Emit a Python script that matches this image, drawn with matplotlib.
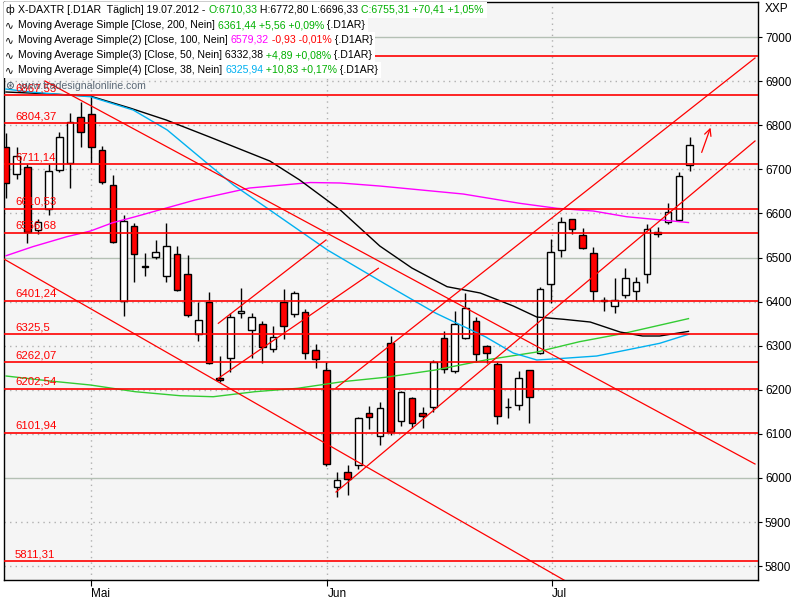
import matplotlib
matplotlib.use("Agg")
import matplotlib.pyplot as plt
from matplotlib.text import Annotation
from matplotlib.patches import Rectangle

# ---------------- data ----------------
opens = [6749.9, 6688.7, 6704.5, 6562.4, 6610.0, 6698.4, 6713.6, 6817.9, 6825.4, 6743.8,
         6663.7, 6401.4, 6570.7, 6480.0, 6500.4, 6458.7, 6507.2, 6462.6, 6326.5, 6399.1,
         6226.0, 6271.4, 6373.5, 6334.9, 6349.2, 6291.8, 6398.4, 6371.2, 6377.1, 6289.6,
         6244.9, 5980.3, 6012.9, 6028.8, 6146.7, 6094.6, 6305.4, 6129.2, 6180.7, 6148.1,
         6161.7, 6316.8, 6242.6, 6318.1, 6356.7, 6299.3, 6257.8, 6161.0, 6164.8, 6244.9,
         6282.8, 6439.2, 6517.0, 6586.6, 6550.3, 6510.9, 6402.0, 6390.0, 6415.0, 6424.0,
         6461.9, 6557.5, 6579.8, 6585.0, 6710.33]
highs = [6781.6, 6751.2, 6712.0, 6586.6, 6712.0, 6783.9, 6827.0, 6853.3, 6868.5, 6752.8,
         6686.4, 6595.7, 6578.9, 6509.5, 6539.7, 6578.9, 6526.1, 6505.7, 6399.8, 6421.1,
         6276.6, 6373.5, 6431.5, 6373.5, 6356.0, 6344.7, 6427.9, 6423.0, 6382.5, 6303.2,
         6263.7, 6014.3, 6029.5, 6137.7, 6163.3, 6172.3, 6322.0, 6197.3, 6183.0, 6161.7,
         6267.6, 6333.3, 6378.7, 6420.2, 6364.4, 6301.6, 6263.7, 6180.7, 6242.6, 6245.5,
         6432.4, 6542.0, 6591.1, 6588.0, 6566.2, 6523.1, 6411.0, 6452.8, 6476.9, 6456.5,
         6575.3, 6569.8, 6624.3, 6694.6, 6772.80]
lows = [6634.2, 6677.3, 6532.2, 6553.3, 6596.4, 6693.2, 6658.3, 6749.9, 6715.0, 6666.0,
        6532.0, 6368.0, 6445.1, 6458.0, 6496.6, 6445.1, 6424.7, 6365.8, 6311.3, 6258.0,
        6218.4, 6241.0, 6362.1, 6271.4, 6260.1, 6286.4, 6315.2, 6364.4, 6269.8, 6248.7,
        6027.2, 5956.2, 5961.4, 6019.7, 6110.4, 6074.1, 6097.5, 6118.6, 6114.0, 6112.7,
        6150.3, 6237.4, 6237.4, 6315.2, 6263.7, 6260.1, 6121.8, 6136.7, 6154.2, 6125.4,
        6282.0, 6396.1, 6500.4, 6552.6, 6518.6, 6402.0, 6379.4, 6373.5, 6407.5, 6402.0,
        6441.5, 6545.8, 6576.0, 6583.4, 6696.33]
closes = [6668.3, 6730.2, 6558.5, 6579.8, 6696.1, 6772.6, 6806.6, 6783.9, 6749.9, 6670.5,
          6534.5, 6583.4, 6507.2, 6478.0, 6511.8, 6526.1, 6426.3, 6369.6, 6358.3, 6260.1,
          6223.0, 6364.4, 6378.7, 6364.4, 6296.4, 6319.0, 6344.7, 6418.8, 6282.8, 6269.2,
          6031.1, 5994.8, 5998.4, 6135.4, 6137.6, 6158.7, 6103.2, 6194.3, 6125.4, 6139.9,
          6263.7, 6246.5, 6349.2, 6384.8, 6281.2, 6282.8, 6140.6, 6160.0, 6226.1, 6183.0,
          6427.9, 6511.8, 6579.8, 6563.9, 6520.8, 6424.7, 6404.3, 6403.6, 6452.8, 6443.8,
          6564.6, 6553.0, 6603.2, 6684.8, 6755.31]

month_labels = ["Mai", "Jun", "Jul"]
month_index = [8, 30.1, 51.1]

# moving averages read at selected bar indices
ma200_idx = [0, 4.1, 7.9, 12.1, 16.3, 19.4, 23.3, 27.3, 31.5, 35.5, 40.2, 44.9, 49.7, 53.7, 57.8, 63.9]
ma200_val = [6231.3, 6220.0, 6210.9, 6195.7, 6186.6, 6184.3, 6195.7, 6203.4, 6218.4, 6228.3,
             6244.9, 6267.6, 6285.7, 6309.1, 6327.7, 6361.4]
ma100_idx = [0, 2.5, 5.7, 7.9, 10, 12.1, 17.7, 22.8, 28.5, 31.3, 35, 42.8, 48.1, 51.6, 55, 58.1, 63.9]
ma100_val = [6504.0, 6524.5, 6547.2, 6560.0, 6579.0, 6592.5, 6630.4, 6657.6, 6670.0, 6669.0,
             6662.1, 6644.0, 6622.9, 6611.5, 6605.4, 6592.5, 6579.3]
ma50_idx = [0, 4.1, 7.9, 11.6, 15, 19, 24.7, 27.5, 31.3, 35, 38, 41.3, 44.4, 47.5, 49.7, 52.2, 54.7, 57.5, 59.6, 61.2, 63.9]
ma50_val = [6875.3, 6871.0, 6866.0, 6839.0, 6811.8, 6773.9, 6718.8, 6675.7, 6607.7, 6526.0,
            6476.2, 6433.8, 6419.5, 6390.0, 6365.0, 6359.9, 6353.7, 6331.0, 6322.0, 6322.0, 6332.4]
ma38_idx = [0, 2, 5.7, 7.9, 11.9, 15.1, 18.8, 21.3, 24.7, 30.1, 35.5, 40.2, 44.9, 47.5, 49.7, 52.2, 55.3, 58.1, 61.2, 63.9]
ma38_val = [6882.0, 6876.0, 6868.5, 6864.6, 6834.5, 6789.1, 6714.3, 6664.4, 6607.7, 6517.0,
            6440.0, 6374.2, 6320.0, 6283.4, 6267.6, 6271.4, 6276.6, 6290.2, 6305.4, 6325.9]

level_values = [6958.0, 6867.53, 6804.37, 6711.14, 6610.53, 6556.68, 6401.24, 6325.5,
                6262.07, 6202.54, 6101.94, 5811.31]
level_labels = ["", "6867,53", "6804,37", "6711,14", "6610,53", "6556,68", "6401,24", "6325,5",
                "6262,07", "6202,54", "6101,94", "5811,31"]

# trend lines: (start index, start price, end index, end price)
trend_lines = [
    (-0.37, 6499.0, 52.5, 5765.0),
    (3.65, 6900.2, 70.13, 6031.7),
    (30.9, 6204.1, 70.13, 6952.4),
    (30.9, 5968.2, 70.13, 6764.2),
    (19.88, 6350.8, 29.96, 6539.7),
    (19.88, 6226.1, 34.86, 6475.5),
]
arrow_pts = (65.05, 6732.4, 66.05, 6800.4)

y_ticks = list(range(5800, 7001, 100))

# ---------------- figure ----------------
plt.rcParams['font.family'] = ['Liberation Sans', 'DejaVu Sans']
fig = plt.figure(figsize=(8, 6), dpi=100)
fig.patch.set_facecolor('white')
ax = fig.add_axes([4/800, 20/600, 754/800, 578/600])
ax.set_facecolor('#f5f5f5')
ax.set_xlim(-0.19, 70.41)
ax.set_ylim(5768.7, 7079.4)

# grid
for v in y_ticks:
    if v % 500 == 0:
        ax.axhline(v, color='#b4c0b4', lw=1.0, zorder=0.5)
    else:
        ax.axhline(v, color='#b0b0b0', lw=1.0, ls=(0, (1, 3)), zorder=0.5)
for m in month_index:
    ax.axvline(m, color='#b0b0b0', lw=1.0, ls=(0, (1, 3)), zorder=0.5)

# candles
n = len(opens)
xs = list(range(n))
ax.vlines(xs, lows, highs, color='black', lw=1.0, zorder=2)
for i in range(n):
    o, c = opens[i], closes[i]
    lo, hi = min(o, c), max(o, c)
    h = max(hi - lo, 1.0)
    fc = 'white' if c > o else '#ff0000'
    ax.bar(i, h, bottom=lo, width=0.62, color=fc, edgecolor='black', linewidth=1.0, zorder=3)

# moving averages
ax.plot(ma200_idx, ma200_val, color='#33cc33', lw=1.0, zorder=4)
ax.plot(ma100_idx, ma100_val, color='#ff00ff', lw=1.0, zorder=4)
ax.plot(ma50_idx, ma50_val, color='black', lw=1.0, zorder=4)
ax.plot(ma38_idx, ma38_val, color='#00b0f0', lw=1.0, zorder=4)

# horizontal levels
for v, lab in zip(level_values, level_labels):
    ax.axhline(v, color='#ff0000', lw=1.2, zorder=5)
    if lab:
        ax.annotate(lab, xy=(11/754, v), xycoords=('axes fraction', 'data'),
                    xytext=(0, 1.5), textcoords='offset points', color='#ff0000',
                    fontsize=8.2, va='bottom', ha='left', zorder=6)

# trend lines
for x0, y0, x1, y1 in trend_lines:
    ax.plot([x0, x1], [y0, y1], color='#ff0000', lw=0.9, zorder=5)
ax.annotate('', xy=(arrow_pts[2], arrow_pts[3]), xytext=(arrow_pts[0], arrow_pts[1]),
            arrowprops=dict(arrowstyle='->', color='#ff0000', lw=0.9, mutation_scale=12), zorder=6)

# axes styling
ax.yaxis.tick_right()
ax.set_yticks(y_ticks)
ax.set_yticklabels([str(v) for v in y_ticks])
ax.tick_params(axis='y', direction='out', length=3, width=0.8, labelsize=8.5, pad=2, colors='black')
ax.set_xticks(month_index)
ax.set_xticklabels(month_labels, ha='left')
ax.tick_params(axis='x', direction='out', length=4, width=0.8, labelsize=8.5, pad=2)
for s in ax.spines.values():
    s.set_color('black')
    s.set_linewidth(1.0)
fig.text(765/800, 1 - 9/600, "XXP", fontsize=8.5, va='center', ha='left')

# header text rows
FS = 7.6
rows_drawn = []
def row(parts, y_px, icon):
    y = 1 - y_px / 600
    fig.text(5/800, y, icon, color='black', fontsize=FS, va='center', ha='left', zorder=11)
    t = fig.text(18/800, y, parts[0][0], color=parts[0][1], fontsize=FS, va='center',
                 ha='left', zorder=11)
    first = t
    for s, c in parts[1:]:
        a = Annotation(s, xy=(1, 0), xycoords=t, color=c, fontsize=FS, va='bottom',
                       ha='left', annotation_clip=False)
        a.set_zorder(11)
        fig.add_artist(a)
        t = a
    rows_drawn.append((first, t, y_px))

G = '#00b000'
row([("X-DAXTR [.D1AR  Täglich] 19.07.2012 - ", 'black'), ("O:6710,33", G),
     (" H:6772,80 L:6696,33 ", 'black'), ("C:6755,31 +70,41 +1,05%", G)], 10, "ф")
row([("Moving Average Simple [Close, 200, Nein] ", 'black'), ("6361,44 +5,56 +0,09%", G),
     (" {.D1AR}", 'black')], 25, "∿")
row([("Moving Average Simple(2) [Close, 100, Nein] ", 'black'), ("6579,32", '#ff00ff'),
     (" -0,93 -0,01%", '#ff0000'), (" {.D1AR}", 'black')], 40, "∿")
row([("Moving Average Simple(3) [Close, 50, Nein] 6332,38", 'black'), (" +4,89 +0,08%", G),
     (" {.D1AR}", 'black')], 55, "∿")
row([("Moving Average Simple(4) [Close, 38, Nein] ", 'black'), ("6325,94", '#00b0f0'),
     (" +10,83 +0,17%", G), (" {.D1AR}", 'black')], 70, "∿")
fig.text(5/800, 1 - 86/600, "⊛", color='#405060', fontsize=FS, va='center', ha='left', zorder=11)
fig.text(18/800, 1 - 86/600, "www.tradesignalonline.com", color='#405060', fontsize=FS,
         va='center', ha='left', zorder=11, alpha=0.85)

# white backgrounds behind header rows (sized from the rendered text)
fig.canvas.draw()
for first, last, y_px in rows_drawn:
    x_end = last.get_window_extent().x1
    top = 600 - (y_px - 7.5)
    rect = Rectangle((4/800, (600 - (y_px + 7.5)) / 600), (x_end + 3 - 4) / 800, 15 / 600,
                     transform=fig.transFigure, facecolor='white', edgecolor='none', zorder=10)
    fig.add_artist(rect)

fig.savefig('out.png', dpi=100, facecolor='white')
